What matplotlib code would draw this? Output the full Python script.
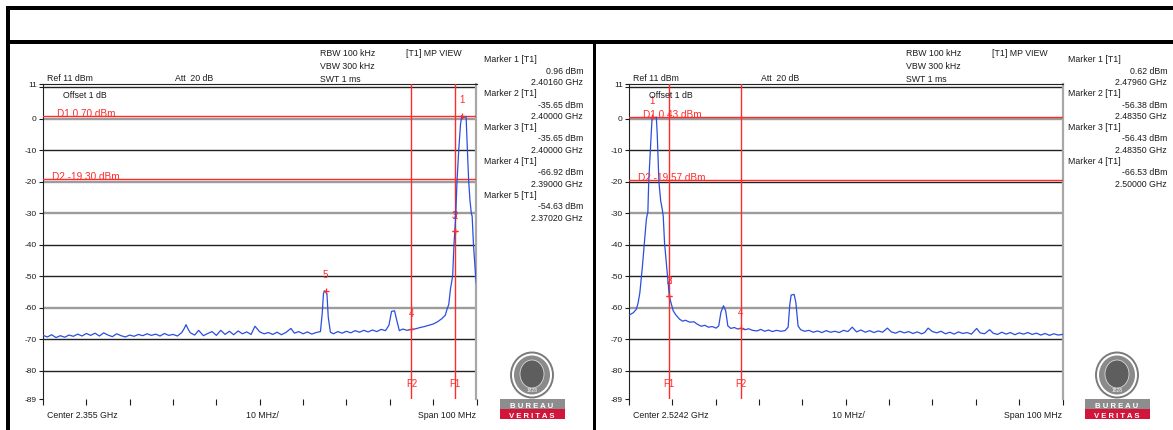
import numpy as np
import matplotlib.pyplot as plt
from matplotlib.patches import Ellipse, Rectangle

W, H = 1173, 430
plt.rcParams['font.family'] = ['Liberation Sans', 'DejaVu Sans']

# ---- data (MHz from start of span, dBm) ----
left_f = [0, 1, 2, 3, 4, 5, 6, 7, 8, 9, 10, 11, 12, 13, 14, 15, 16, 17, 18, 19,
          20, 21, 22, 23, 24, 25, 26, 27, 28, 29, 30, 31, 32, 32.5, 33, 33.5, 34, 35,
          35.9, 37, 38, 39, 40, 41, 42, 43, 44, 45, 46, 47, 48, 48.9, 50, 51, 52,
          53, 54, 55, 56, 57.2, 58, 59, 60, 61, 62, 63, 64, 64.4, 64.7, 65.0, 65.5,
          65.8, 66.3, 67, 68, 69, 70, 71, 72, 73, 74, 75, 76, 77, 78, 79, 79.8,
          80.4, 81.1, 81.6, 82.2, 83, 84, 85, 86, 87, 88, 89, 90, 91, 92, 92.8,
          93.2, 93.6, 94.0, 94.5, 94.8, 95.0, 95.2, 95.5, 95.9, 96.3, 96.6, 97.0,
          97.6, 97.9, 98.2, 98.5, 98.8, 99.0, 99.3, 99.6, 99.8, 100]
left_db = [-68.8, -69.3, -68.6, -69.5, -68.9, -69.4, -68.7, -69.1, -68.4, -69.0,
           -68.2, -68.8, -68.1, -69.0, -68.0, -68.7, -69.2, -68.3, -68.9, -69.3,
           -68.7, -69.1, -68.5, -68.9, -68.3, -68.8, -68.4, -69.0, -68.2, -68.8,
           -68.5, -69.0, -67.9, -66.8, -65.4, -66.9, -68.0, -68.7, -67.2, -68.9,
           -68.2, -67.6, -68.8, -67.2, -68.5, -67.5, -68.6, -67.4, -68.3, -67.7,
           -68.5, -65.9, -67.7, -68.3, -67.9, -68.5, -67.8, -68.6, -67.9, -66.6,
           -68.1, -67.6, -68.3, -67.7, -68.4, -67.9, -67.6, -62.0, -55.5, -54.6,
           -55.6, -63.0, -67.8, -68.3, -67.6, -68.1, -67.5, -68.0, -67.3, -67.8,
           -67.2, -67.7, -67.1, -67.6, -66.9, -67.3, -65.6, -61.2, -61.0, -64.0,
           -67.3, -66.8, -67.2, -66.9, -66.7, -66.3, -66.0, -65.6, -65.2, -64.5,
           -63.5, -62.4, -60.5, -59.0, -54.0, -50.0, -40.0, -35.65, -31.0, -20.0,
           -10.0, -2.0, 0.96, 0.4, 0.7, -10.0, -20.0, -26.0, -30.0, -31.0, -40.0,
           -46.0, -50.0, -52.5]

right_f = [0, 0.5, 1.0, 1.7, 2.1, 2.5, 2.8, 3.1, 3.6, 4.0, 4.2, 4.35, 4.55, 4.94,
           5.3, 5.4, 5.8, 6.3, 6.5, 6.9, 7.3, 7.7, 7.9, 8.2, 8.9, 9.3, 9.6, 10.2,
           10.8, 11.7, 12.4, 13, 14, 15, 15.8, 16.7, 17.5, 18.3, 19.2, 20.1, 20.7,
           21.2, 21.8, 22.3, 22.8, 23.5, 24.3, 25.1, 25.8, 26.8, 27.6, 28.5, 29.5,
           30.4, 31.3, 32.2, 33.1, 34.0, 35.0, 36.0, 36.7, 37.1, 37.4, 38.1, 38.5,
           39.0, 39.6, 40.5, 41.5, 42.5, 43.5, 44.5, 45.5, 46.5, 47.5, 48.5, 49.5,
           50.5, 51.5, 52.5, 53.5, 54.5, 55.5, 56.5, 57.5, 58.5, 59.6, 60.5, 61.5,
           62.5, 63.5, 64.5, 65.5, 66.5, 67.5, 68.2, 69.0, 70, 71, 72, 73, 74, 75,
           76, 77, 78, 79, 80.2, 81, 82, 83.2, 84, 85, 86, 87, 88, 89, 90, 91, 92,
           93, 94, 95, 96, 97, 98, 99, 100]
right_db = [-62.4, -62.0, -61.6, -60.5, -58.5, -55.3, -51.0, -46.8, -38.4, -32.0,
            -30.5, -29.8, -19.9, -9.8, -0.3, 0.62, 0.2, 0.5, -4.5, -20.0, -26.0,
            -29.0, -31.0, -39.5, -50.0, -56.38, -58.0, -61.0, -62.3, -63.7, -64.3,
            -64.0, -64.6, -64.5, -65.3, -65.9, -65.6, -66.2, -66.0, -66.5, -65.8,
            -61.5, -59.4, -61.0, -65.8, -66.6, -66.3, -66.8, -66.53, -67.0, -66.7,
            -67.2, -67.4, -66.9, -67.5, -67.1, -67.6, -67.2, -67.5, -67.3, -66.2,
            -59.0, -56.0, -55.8, -58.5, -65.8, -67.0, -67.5, -67.2, -67.8, -67.4,
            -67.9, -67.3, -67.8, -67.5, -67.9, -67.2, -67.6, -66.2, -67.7, -67.1,
            -67.8, -67.3, -67.9, -67.4, -67.8, -66.5, -67.7, -68.1, -67.5, -68.0,
            -67.6, -68.2, -67.7, -68.3, -67.9, -66.5, -67.6, -68.0, -67.5, -68.3,
            -67.8, -68.4, -67.7, -68.2, -67.9, -68.4, -66.6, -68.0, -68.3, -67.0,
            -68.1, -68.5, -67.8, -68.4, -67.9, -68.6, -68.0, -68.4, -67.9, -68.5,
            -68.1, -68.7, -68.2, -68.8, -68.3, -68.7, -68.5]

y_ticks = [11, 10, 0, -10, -20, -30, -40, -50, -60, -70, -80, -89]
y_tick_labels = ['11', '', '0', '-10', '-20', '-30', '-40', '-50', '-60', '-70', '-80', '-89']
grid_levels = [10, 0, -10, -20, -30, -40, -50, -60, -70, -80]

left_info = dict(center='Center 2.355 GHz', d1=0.70, d2=-19.30, f1=95.0, f2=85.0,
                 markers=[('1', 96.6, 0.96), ('2', 95.0, -35.65), ('3', 95.0, -35.65),
                          ('4', 85.0, -66.92), ('5', 65.2, -54.63)],
                 table=[('0.96 dBm', '2.40160 GHz'), ('-35.65 dBm', '2.40000 GHz'),
                        ('-35.65 dBm', '2.40000 GHz'), ('-66.92 dBm', '2.39000 GHz'),
                        ('-54.63 dBm', '2.37020 GHz')],
                 gray=[0, -20, -30, -60])
right_info = dict(center='Center 2.5242 GHz', d1=0.43, d2=-19.57, f1=9.3, f2=25.8,
                  markers=[('1', 5.4, 0.62), ('2', 9.3, -56.38), ('3', 9.3, -56.43),
                           ('4', 25.8, -66.53)],
                  table=[('0.62 dBm', '2.47960 GHz'), ('-56.38 dBm', '2.48350 GHz'),
                         ('-56.43 dBm', '2.48350 GHz'), ('-66.53 dBm', '2.50000 GHz')],
                  gray=[0, -30, -60])

RED = '#ff2a2a'
BLUE = '#2a4ee0'
TXT = '#1c1c1c'

fig = plt.figure(figsize=(W / 100, H / 100), dpi=100)
fig.patch.set_facecolor('white')


def ftext(x, y, s, **kw):
    kw.setdefault('fontsize', 6.3)
    kw.setdefault('color', TXT)
    kw.setdefault('va', 'baseline')
    fig.text(x / W, 1 - y / H, s, **kw)


def frect(x0, y0, x1, y1, color, **kw):
    fig.patches.append(Rectangle((x0 / W, 1 - y1 / H), (x1 - x0) / W, (y1 - y0) / H,
                                 transform=fig.transFigure, facecolor=color,
                                 edgecolor='none', **kw))


def logo(cx):
    oval = Ellipse((cx / W, 1 - 375 / H), 42 / W, 45 / H, transform=fig.transFigure,
                   facecolor='white', edgecolor='#7a7a7a', lw=1.4)
    ring = Ellipse((cx / W, 1 - 375 / H), 36 / W, 39 / H, transform=fig.transFigure,
                   facecolor='#8a8a8a', edgecolor='none')
    inner = Ellipse((cx / W, 1 - 374 / H), 24 / W, 28 / H, transform=fig.transFigure,
                    facecolor='#5e5e5e', edgecolor='#d8d8d8', lw=0.6)
    fig.patches.extend([oval, ring, inner])
    ftext(cx, 392, '1828', ha='center', color='white', fontsize=3.5)
    frect(cx - 32, 399, cx + 33, 409, '#8d8d8d')
    frect(cx - 32, 409, cx + 33, 419, '#d2153a')
    ftext(cx, 407.5, 'B U R E A U', ha='center', color='white', fontsize=5.6, fontweight='bold')
    ftext(cx, 417.5, 'V E R I T A S', ha='center', color='white', fontsize=5.6, fontweight='bold')


def panel(x_axis, dx, freqs, levels, info):
    ax = fig.add_axes([x_axis / W, 1 - 399 / H, 433.5 / W, 315 / H])
    ax.set_xlim(0, 100)
    ax.set_ylim(-89, 11)
    ax.set_facecolor('white')
    for lvl in grid_levels:
        if lvl in info['gray']:
            ax.axhline(lvl, color='#9c9c9c', lw=1.7, zorder=1)
        else:
            ax.axhline(lvl, color='#222222', lw=1.0, zorder=1)
    ax.spines['bottom'].set_visible(False)
    ax.spines['top'].set_color('#222222')
    ax.spines['left'].set_color('#222222')
    ax.spines['right'].set_color('#a8a8a8')
    ax.spines['right'].set_linewidth(1.6)
    ax.set_yticks(y_ticks)
    ax.set_yticklabels(y_tick_labels)
    ax.set_xticks(np.arange(0, 101, 10))
    ax.set_xticklabels([])
    ax.tick_params(axis='y', direction='out', length=3, width=0.8, labelsize=6.0,
                   pad=1.5, colors=TXT)
    ax.tick_params(axis='x', direction='out', length=4, width=0.8, colors=TXT)

    # limit lines and frequency lines
    ax.axhline(info['d1'], color=RED, lw=1.0, zorder=3)
    ax.axhline(info['d2'], color=RED, lw=1.0, zorder=3)
    ax.axvline(info['f1'], color=RED, lw=1.0, zorder=3)
    ax.axvline(info['f2'], color=RED, lw=1.0, zorder=3)
    ax.plot(freqs, levels, color=BLUE, lw=0.9, zorder=4)

    for name, f, lvl in info['markers']:
        ax.plot(f, lvl, marker='+', color=RED, ms=5, mew=0.9, zorder=5)
        ax.annotate(name, (f, lvl), xytext=(0, 11), textcoords='offset points',
                    ha='center', va='center', color=RED, fontsize=7)
    ax.text(info['f1'], -84.3, 'F1', color=RED, fontsize=7, ha='center', va='center')
    ax.text(info['f2'], -84.3, 'F2', color=RED, fontsize=7, ha='center', va='center')

    d1y = 119 - info['d1'] * 3.15
    d2y = 119 - info['d2'] * 3.15
    ftext(57 + dx, d1y + 0.5, 'D1 %.2f dBm' % info['d1'], color=RED, fontsize=7.2)
    ftext(52 + dx, d2y + 0.5, 'D2 %.2f dBm' % info['d2'], color=RED, fontsize=7.2)

    # header texts
    ftext(320 + dx, 56, 'RBW 100 kHz')
    ftext(320 + dx, 69, 'VBW 300 kHz')
    ftext(320 + dx, 82, 'SWT 1 ms')
    ftext(406 + dx, 56, '[T1] MP VIEW')
    ftext(47 + dx, 81, 'Ref 11 dBm')
    ftext(175 + dx, 81, 'Att  20 dB')
    ftext(63 + dx, 98, 'Offset 1 dB')

    # bottom axis texts
    ftext(47 + dx, 418, info['center'])
    ftext(262 + dx, 418, '10 MHz/', ha='center')
    ftext(476 + dx, 418, 'Span 100 MHz', ha='right')

    # marker table
    mx = 484 + dx - 2 if dx else 484
    for i, (lvl_txt, f_txt) in enumerate(info['table']):
        base = 62 + i * 33.9
        ftext(mx, base, 'Marker %d [T1]' % (i + 1))
        ftext(mx + 99, base + 11.6, lvl_txt, ha='right')
        ftext(mx + 99, base + 23, f_txt, ha='right')
    return ax


panel(43, 0, left_f, left_db, left_info)
panel(629, 586, right_f, right_db, right_info)
logo(532)
logo(1117)

# black frame of the screenshot
frect(6, 6, W, 9.5, 'black')
frect(6, 6, 10, H, 'black')
frect(6, 40, W, 44, 'black')
frect(592.5, 44, 596, H, 'black')

fig.savefig('out.png', dpi=100)
